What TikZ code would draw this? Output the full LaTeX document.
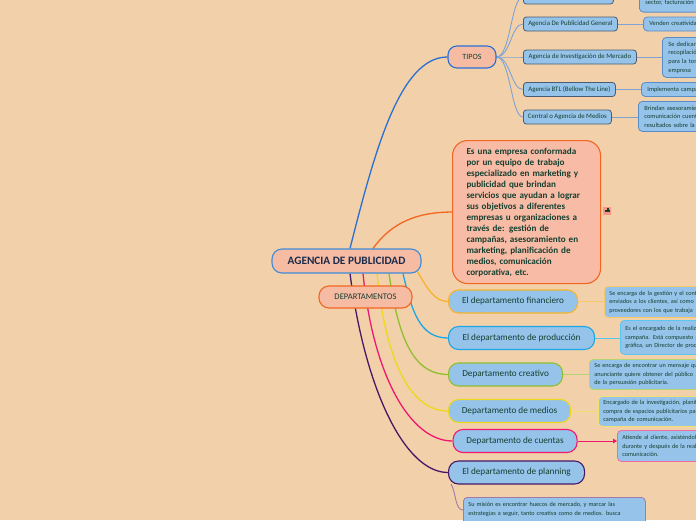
\documentclass[tikz,border=0pt]{standalone}
\usepackage{fontspec}
\setmainfont{Carlito}
\usetikzlibrary{arrows.meta}
\pgfdeclarelayer{back}
\pgfdeclarelayer{links}
\pgfsetlayers{back,links,main}
\definecolor{bgc}{HTML}{F2D1AA}
\definecolor{salmon}{HTML}{F5BBA3}
\definecolor{deskfill}{HTML}{F8BCA6}
\definecolor{bluefill}{HTML}{96C3EA}
\definecolor{txtgreen}{HTML}{153F30}
\definecolor{navy}{HTML}{1B2B4B}
\definecolor{rootblue}{HTML}{3F8BD6}
\definecolor{tiposblue}{HTML}{2A6FD6}
\definecolor{orangeln}{HTML}{F26522}
\definecolor{typeborder}{HTML}{4C5C70}
\definecolor{typelink}{HTML}{7EA3D3}
\definecolor{leafborder}{HTML}{5A8CC8}
\definecolor{cfin}{HTML}{F7B32B}
\definecolor{cprod}{HTML}{1CA6E8}
\definecolor{ccre}{HTML}{8DBF2E}
\definecolor{cmed}{HTML}{EDD81C}
\definecolor{ccue}{HTML}{F0186E}
\definecolor{cpla}{HTML}{4A1766}
\definecolor{lfin}{HTML}{F5C86A}
\definecolor{lprod}{HTML}{5CC5F0}
\definecolor{lcre}{HTML}{B3D470}
\definecolor{lmed}{HTML}{F0E070}
\definecolor{lcue}{HTML}{F06BA0}
\definecolor{lpla}{HTML}{A07AA8}
\begin{document}
\begin{tikzpicture}[x=1pt,y=-1pt,
  rootbox/.style={draw=rootblue, fill=salmon, rounded corners=10pt, line width=1.1pt, text=navy,
    font=\fontsize{11.3}{13}\selectfont\bfseries, inner sep=0pt},
  deproot/.style={draw=orangeln, fill=salmon, rounded corners=10pt, line width=1.1pt, text=txtgreen,
    font=\fontsize{8.6}{10}\selectfont, inner sep=0pt},
  tiposbox/.style={draw=tiposblue, fill=salmon, rounded corners=9pt, line width=1.1pt, text=txtgreen,
    font=\fontsize{8}{9}\selectfont, inner sep=0pt},
  typebox/.style={draw=typeborder, fill=bluefill, rounded corners=3pt, line width=0.8pt, text=txtgreen,
    font=\fontsize{6.8}{7.5}\selectfont, inner sep=0pt, minimum height=14pt, anchor=west},
  typeleaf/.style={draw=leafborder, fill=bluefill, rounded corners=4pt, line width=0.8pt, text=txtgreen,
    font=\fontsize{6.4}{8.6}\selectfont, inner xsep=6pt, inner ysep=0pt, align=left},
  deptbox/.style={fill=bluefill, rounded corners=10pt, line width=1.1pt, text=txtgreen,
    font=\fontsize{9.2}{10.5}\selectfont, inner sep=0pt, minimum height=23pt, anchor=west},
  deptleaf/.style={fill=bluefill, rounded corners=4pt, line width=0.8pt, text=txtgreen,
    font=\fontsize{6.2}{8.5}\selectfont, inner xsep=5pt, inner ysep=0pt, align=left, anchor=north west},
  link/.style={line width=1.3pt},
  thinlink/.style={line width=0.9pt}
]
\useasboundingbox (0,0) rectangle (696,520);
\clip (0,0) rectangle (696,520);
\begin{pgfonlayer}{back}
\fill[bgc] (0,0) rectangle (696,520);
\end{pgfonlayer}

% central nodes
\node[rootbox, minimum width=149pt, minimum height=24pt] (root) at (346.5,261) {AGENCIA DE PUBLICIDAD};
\node[deproot, minimum width=93pt, minimum height=22pt] (dep) at (365.5,297) {DEPARTAMENTOS};
\node[tiposbox, minimum width=48pt, minimum height=22pt] (tipos) at (472,57) {TIPOS};

% description
\node[draw=orangeln, fill=deskfill, rounded corners=15pt, line width=1.1pt, text=txtgreen,
  anchor=north west, minimum width=148pt, minimum height=143pt, text width=120pt, inner xsep=14pt,
  align=left, font=\fontsize{9.1}{11}\selectfont\bfseries] (desc) at (452,140)
  {Es una empresa conformada\\ por un equipo de trabajo\\ especializado en marketing y\\ publicidad que brindan\\ servicios que ayudan a lograr\\ sus objetivos a diferentes\\ empresas u organizaciones a\\ través de: gestión de\\ campañas, asesoramiento en\\ marketing, planificación de\\ medios, comunicación\\ corporativa, etc.};
\node[fill=deskfill!80!red, minimum size=8pt, inner sep=0pt] (icon) at (607,211) {};
\fill[txtgreen] ([xshift=-2pt,yshift=-1pt]icon.center) rectangle ([xshift=2.5pt,yshift=1pt]icon.center);
\fill[txtgreen] ([xshift=0pt,yshift=-1pt]icon.center) rectangle ([xshift=1.5pt,yshift=3pt]icon.center);

% types
\node[typebox, minimum width=90pt] (t1) at (523,-3) {};
\node[typebox, minimum width=94pt] (t2) at (523,24) {Agencia De Publicidad General};
\node[typebox, minimum width=113pt] (t3) at (523,57) {Agencia de Investigación de Mercado};
\node[typebox, minimum width=92pt] (t4) at (523,89.5) {Agencia BTL (Bellow The Line)};
\node[typebox, minimum width=88pt] (t5) at (523,117) {Central o Agencia de Medios};

\node[typeleaf, anchor=south west, minimum height=32pt, text width=90pt] (l1) at (639,12.5) {\mbox{}\\ \mbox{}\\ sector, facturación y};
\node[typeleaf, anchor=west, minimum height=14pt, text width=90pt] (l2) at (643,24) {Venden creatividad y};
\node[typeleaf, anchor=north west, minimum height=40pt, text width=70pt] (l3) at (662,37) {Se dedican a la\\ recopilación de\\ para la toma de\\ empresa};
\node[typeleaf, anchor=west, minimum height=14pt, text width=90pt] (l4) at (641,89.5) {Implementa campañas};
\node[typeleaf, anchor=north west, minimum height=30pt, text width=90pt] (l5) at (638,101) {Brindan asesoramiento\\ comunicación cuenta\\ resultados sobre la};

% departments
\node[deptbox, draw=cfin, minimum width=129pt] (d1) at (448,301.5) {El departamento financiero};
\node[deptbox, draw=cprod, minimum width=146pt] (d2) at (448,338) {El departamento de producción};
\node[deptbox, draw=ccre, minimum width=114pt] (d3) at (448,374.5) {Departamento creativo};
\node[deptbox, draw=cmed, minimum width=122pt] (d4) at (448,411) {Departamento de medios};
\node[deptbox, draw=ccue, minimum width=124pt] (d5) at (452.5,441) {Departamento de cuentas};
\node[deptbox, draw=cpla, minimum width=136pt] (d6) at (448,472.5) {El departamento de planning};

\node[deptleaf, draw=lfin, minimum height=31pt, text width=130pt] (e1) at (604,286) {Se encarga de la gestión y el control\\ enviados a los clientes, así como\\ proveedores con los que trabaja};
\node[deptleaf, draw=lprod, minimum height=34pt, text width=120pt] (e2) at (620,320) {Es el encargado de la realización\\ campaña. Está compuesto por\\ gráfica, un Director de producción};
\node[deptleaf, draw=lcre, minimum height=30pt, text width=140pt] (e3) at (589,359) {Se encarga de encontrar un mensaje que\\ anunciante quiere obtener del público\\ de la persuasión publicitaria.};
\node[deptleaf, draw=lmed, minimum height=30pt, text width=140pt] (e4) at (598,396) {Encargado de la investigación, planificación\\ compra de espacios publicitarios para\\ campaña de comunicación.};
\node[deptleaf, draw=lcue, minimum height=31pt, text width=120pt] (e5) at (617,430) {Atiende al cliente, asisténdolo\\ durante y después de la realización\\ comunicación.};
\node[deptleaf, draw=lpla, minimum height=40pt, text width=172pt, inner ysep=2pt, anchor=north west, align=left] (e6) at (463,497) {Su misión es encontrar huecos de mercado, y marcar las\\ estrategias a seguir, tanto creativa como de medios. busca\\ \mbox{}\\ \mbox{}};

% links
\begin{pgfonlayer}{links}
\draw[link, tiposblue] ([xshift=3.5pt]root.north) .. controls (375,150) and (400,57) .. (tipos.west);
\draw[link, orangeln] ([xshift=26.5pt]root.north) .. controls (392,222) and (418,212) .. (desc.west);
\draw[link, cfin] ([xshift=-4pt,yshift=2pt]root.south east) .. controls (428,290) and (435,301.5) .. (d1.west);
\draw[link, cprod] ([xshift=56.5pt]root.south) .. controls (412,312) and (420,338) .. (d2.west);
\draw[link, ccre] ([xshift=42.5pt]root.south) .. controls (398,335) and (412,374.5) .. (d3.west);
\draw[link, cmed] ([xshift=30.5pt]root.south) .. controls (385,355) and (408,411) .. (d4.west);
\draw[link, ccue] ([xshift=16.5pt]root.south) .. controls (373,375) and (410,441) .. (d5.west);
\draw[link, cpla] ([xshift=3.5pt]root.south) .. controls (365,390) and (405,472.5) .. (d6.west);
\draw[thinlink, lpla] ([xshift=3pt,yshift=0.5pt]d6.south west) .. controls (456,492) and (455,510) .. (463,510);

\foreach \t in {t1,t2,t3,t4,t5}{
  \draw[thinlink, typelink] (tipos.east) .. controls ([xshift=14pt]tipos.east |- tipos.east) and ([xshift=-12pt]\t.west) .. (\t.west);
}
\draw[thinlink, typelink] (t1.east) -- (t1.east -| l1.west);
\draw[thinlink, typelink] (t2.east) -- (l2.west);
\draw[thinlink, typelink] (t3.east) -- (t3.east -| l3.west);
\draw[thinlink, typelink] (t4.east) -- (l4.west);
\draw[thinlink, typelink] (t5.east) -- (t5.east -| l5.west);

\draw[thinlink, lfin] (d1.east) -- (d1.east -| e1.west);
\draw[thinlink, lprod] (d2.east) -- (d2.east -| e2.west);
\draw[thinlink, lcre] (d3.east) -- (d3.east -| e3.west);
\draw[thinlink, lmed] (d4.east) -- (d4.east -| e4.west);
\draw[thinlink, ccue, -{Triangle[length=4pt,width=4.5pt]}] (d5.east) -- (d5.east -| e5.west);
\end{pgfonlayer}
\end{tikzpicture}
\end{document}
